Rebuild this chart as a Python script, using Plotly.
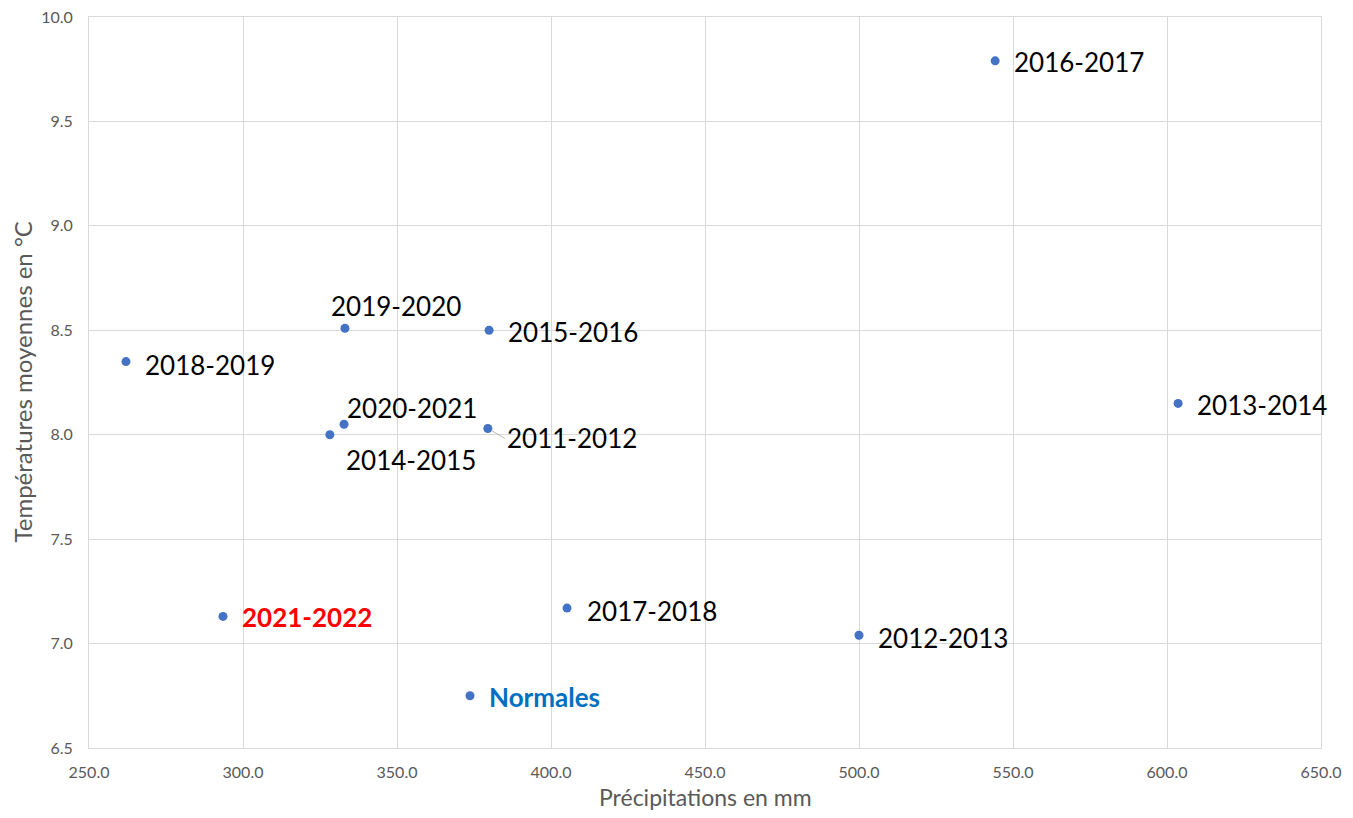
import plotly.graph_objects as go

# Data
seasons = ["2011-2012", "2012-2013", "2013-2014", "2014-2015", "2015-2016", "2016-2017",
           "2017-2018", "2018-2019", "2019-2020", "2020-2021", "2021-2022", "Normales"]
precip_mm = [379.5, 500.0, 603.6, 328.2, 379.9, 544.2, 405.2, 262.0, 333.1, 332.8, 293.5, 373.7]
temp_c = [8.03, 7.04, 8.15, 8.00, 8.50, 9.79, 7.17, 8.35, 8.51, 8.05, 7.13, 6.75]

x_ticks = [250, 300, 350, 400, 450, 500, 550, 600, 650]
y_ticks = [6.5, 7.0, 7.5, 8.0, 8.5, 9.0, 9.5, 10.0]

x_title = "Précipitations en mm"
y_title = "Températures moyennes en °C"

# label placement (pixel offsets from point: dx to text left edge, dy upward)
label_offsets = {
    "2011-2012": (18, -10), "2012-2013": (17, -3), "2013-2014": (17, -2),
    "2014-2015": (14, -25), "2015-2016": (17, -2), "2016-2017": (17, -1),
    "2017-2018": (18, -3), "2018-2019": (17, -3), "2019-2020": (-16, 22),
    "2020-2021": (1, 16), "2021-2022": (17, -1), "Normales": (17, -1),
}
special_style = {
    "2021-2022": dict(color="#FF0000", weight="bold"),
    "Normales": dict(color="#0070C0", weight="bold"),
}

FONT = "Lato, 'Open Sans', sans-serif"
GRID = "#D9D9D9"
GRAY = "#595959"
LABEL_SIZE = 26

fig = go.Figure()
fig.add_trace(go.Scatter(
    x=precip_mm, y=temp_c, mode="markers",
    marker=dict(color="#4472C4", size=9),
    hoverinfo="text", text=seasons, showlegend=False,
))

for s, xv, yv in zip(seasons, precip_mm, temp_c):
    dx, dy = label_offsets[s]
    st = special_style.get(s, dict(color="#000000", weight="normal"))
    if s == "2011-2012":
        continue
    fig.add_annotation(
        x=xv, y=yv, text=s, showarrow=False, xanchor="left", yanchor="middle",
        xshift=dx, yshift=dy,
        font=dict(family=FONT, size=LABEL_SIZE, color=st["color"], weight=st["weight"]),
    )

# 2011-2012 with small leader line
i = seasons.index("2011-2012")
fig.add_annotation(
    x=precip_mm[i], y=temp_c[i], text="2011-2012", showarrow=True,
    arrowhead=0, arrowwidth=0.8, arrowcolor="#A6A6A6", standoff=4,
    xanchor="left", yanchor="middle", ax=17, ay=10,
    font=dict(family=FONT, size=LABEL_SIZE, color="#000000"),
)

# axis titles
fig.add_annotation(
    xref="paper", yref="paper", x=0.5, y=0, xanchor="center", yanchor="middle",
    yshift=-49, text=x_title, showarrow=False,
    font=dict(family=FONT, size=23, color=GRAY),
)
fig.add_annotation(
    xref="paper", yref="paper", x=0, y=0.5, xanchor="center", yanchor="middle",
    xshift=-67, textangle=-90, text=y_title, showarrow=False,
    font=dict(family=FONT, size=24, color=GRAY),
)

# page body keeps an 8px default margin; size the figure to fit the window
fig.update_layout(
    width=1337, height=802,
    margin=dict(l=81, r=24, t=9, b=62, autoexpand=False),
    paper_bgcolor="white", plot_bgcolor="white",
    font=dict(family=FONT, color=GRAY),
    xaxis=dict(
        range=[250, 650], tickvals=x_ticks, tickformat=".1f", automargin=False,
        showgrid=True, gridcolor=GRID, gridwidth=1, zeroline=False,
        showline=True, linecolor=GRID, linewidth=1, mirror=True,
        ticks="", ticklabelstandoff=10, ticklabeloverflow="allow",
        tickfont=dict(family=FONT, size=16, color=GRAY),
    ),
    yaxis=dict(
        range=[6.5, 10.0], tickvals=y_ticks, tickformat=".1f", automargin=False,
        showgrid=True, gridcolor=GRID, gridwidth=1, zeroline=False,
        showline=True, linecolor=GRID, linewidth=1, mirror=True,
        ticks="", ticklabelstandoff=12, ticklabeloverflow="allow",
        tickfont=dict(family=FONT, size=16, color=GRAY),
    ),
)

fig.write_html("out.html")
